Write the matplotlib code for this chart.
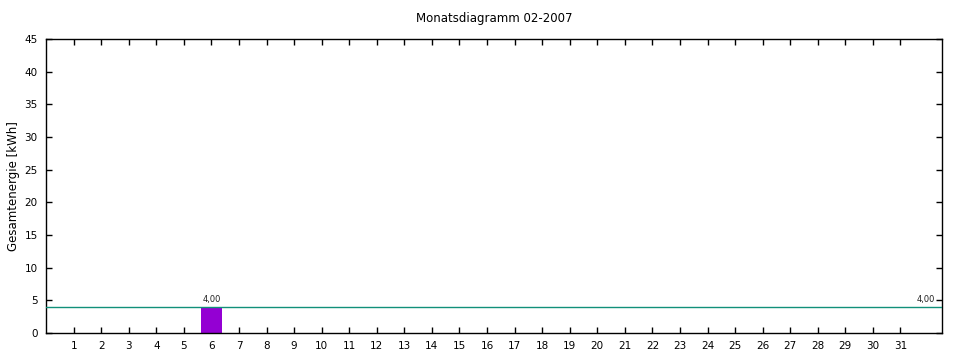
import matplotlib
matplotlib.use('Agg')
import matplotlib.pyplot as plt
import numpy as np

# daily energy values for February 2007 (only day 6 has data)
days = list(range(1, 32))
energy = [0, 0, 0, 0, 0, 4.0, 0, 0, 0, 0, 0, 0, 0, 0, 0, 0, 0, 0, 0, 0,
          0, 0, 0, 0, 0, 0, 0, 0, 0, 0, 0]
average = 4.0
y_ticks = list(range(0, 50, 5))

plt.rcParams['font.family'] = ['DejaVu Sans']
plt.rcParams['font.size'] = 7.5

fig = plt.figure(figsize=(9.6, 3.6), dpi=100)
ax = fig.add_axes([0.048, 0.075, 0.933, 0.817])

for d, v in zip(days, energy):
    if v > 0:
        ax.bar(d, v, width=0.76, color='#9400d3', zorder=2)
        ax.text(d, v + 0.4, f'{v:.2f}'.replace('.', ','), ha='center', va='bottom',
                fontsize=6, color='#222222')

ax.axhline(average, color='#11907a', linewidth=1.0, zorder=3)
ax.text(32.25, average + 0.4, f'{average:.2f}'.replace('.', ','), ha='right', va='bottom',
        fontsize=6, color='#222222')

ax.set_xlim(0, 32.5)
ax.set_ylim(0, 45)
ax.set_xticks(days)
ax.set_yticks(y_ticks)
ax.tick_params(direction='in', length=4, width=1, top=True, right=True,
               labelsize=7.5, pad=6)
for s in ax.spines.values():
    s.set_linewidth(1)

ax.set_ylabel('Gesamtenergie [kWh]', fontsize=8.5, labelpad=3)
ax.set_title('Monatsdiagramm 02-2007', fontsize=8.5, pad=12)

fig.savefig('out.png', dpi=100)
